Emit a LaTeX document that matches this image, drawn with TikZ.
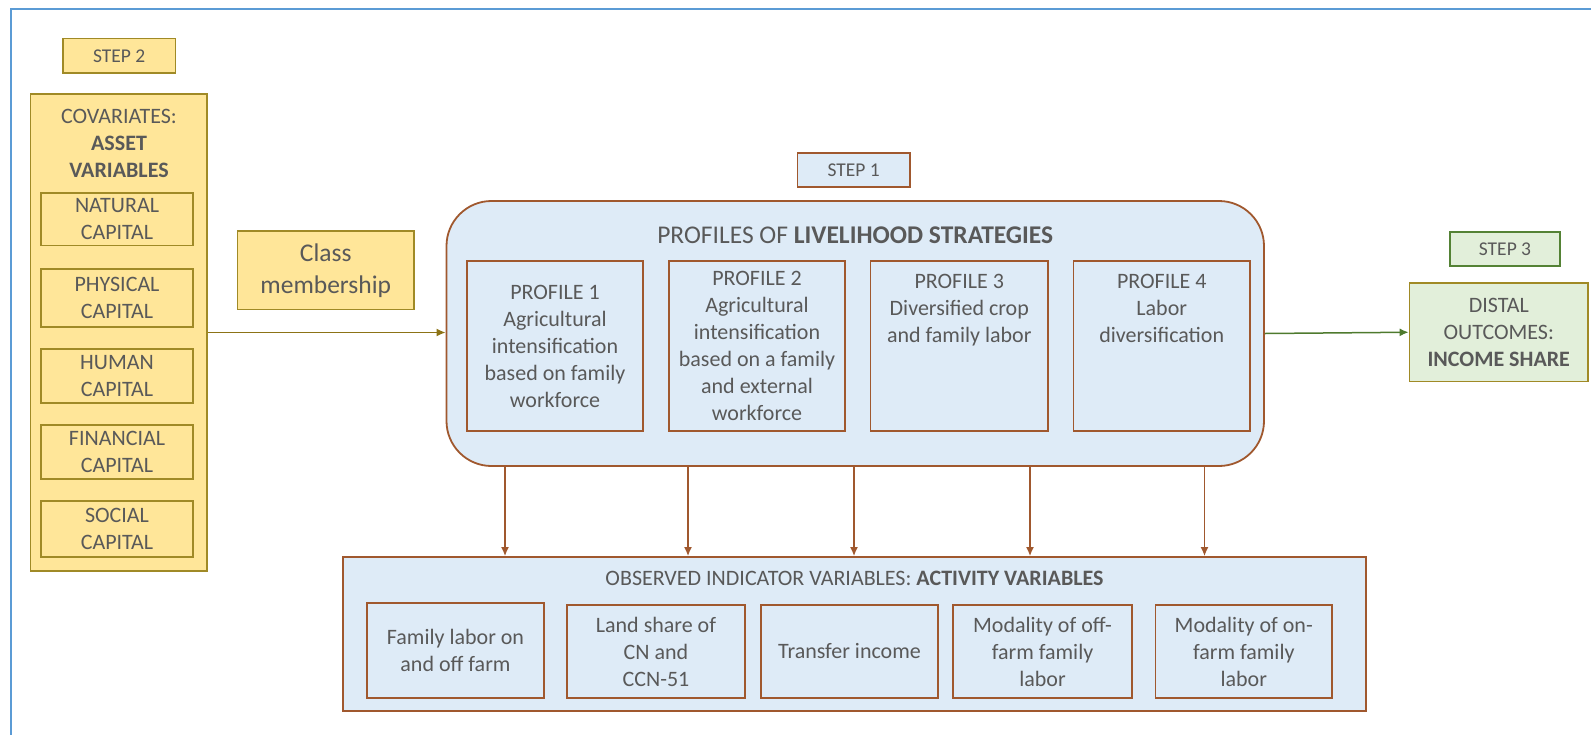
\documentclass[tikz,border=0pt]{standalone}
\usepackage{fontspec}
\setmainfont{Carlito}
\usetikzlibrary{arrows.meta,calc}
\definecolor{tc}{HTML}{595959}
\definecolor{yfill}{HTML}{FFE699}
\definecolor{yline}{HTML}{A08A26}
\definecolor{yarrow}{HTML}{8C7316}
\definecolor{bfill}{HTML}{DEEBF7}
\definecolor{bline}{HTML}{A0582E}
\definecolor{gfill}{HTML}{E2EFDA}
\definecolor{gline}{HTML}{548235}
\definecolor{garrow}{HTML}{4E7A2E}
\definecolor{frame}{HTML}{5B9BD5}
\tikzset{
  box/.style={draw, line width=1.8pt, inner sep=0pt, align=center, text=tc,
    font=\fontsize{22}{27}\selectfont},
  ybox/.style={box, fill=yfill, draw=yline},
  bbox/.style={box, fill=bfill, draw=bline},
  gbox/.style={box, fill=gfill},
  txt/.style={inner sep=0pt, align=center, text=tc, font=\fontsize{22}{27}\selectfont},
  steptxt/.style={font=\fontsize{19.5}{24}\selectfont},
  arr/.style={-{Latex[length=9pt,width=8pt]}, line width=1.5pt},
}
\begin{document}
\begin{tikzpicture}[x=1pt,y=-1pt]
\useasboundingbox (0,0) rectangle (1591,734);
% frame
\draw[frame, line width=2.5pt] (11,740) -- (11,9) -- (1600,9);

% STEP 2 and covariates
\node[ybox, steptxt, minimum width=112.5pt, minimum height=34.5pt] (step2) at (119.25,55.75) {STEP 2};
\node[ybox, minimum width=176.5pt, minimum height=477pt] (cov) at (118.75,332.5) {};
\node[txt] (covt) at (119,143) {COVARIATES:\\\textbf{ASSET}\\\textbf{VARIABLES}};
\node[ybox, minimum width=152pt, minimum height=52.5pt] (nat) at (117,219.25) {NATURAL\\CAPITAL};
\node[ybox, minimum width=152pt, minimum height=58pt] (phys) at (117,298) {PHYSICAL\\CAPITAL};
\node[ybox, minimum width=152pt, minimum height=54pt] (hum) at (117,376) {HUMAN\\CAPITAL};
\node[ybox, minimum width=152pt, minimum height=54pt] (fin) at (117,452) {FINANCIAL\\CAPITAL};
\node[ybox, minimum width=152pt, minimum height=56pt] (soc) at (117,529) {SOCIAL\\CAPITAL};

% class membership
\node[ybox, minimum width=176.5pt, minimum height=78.5pt, font=\fontsize{25.5}{32}\selectfont] (cls) at (325.75,270.25) {Class\\membership};

% STEP 1 and profiles
\node[bbox, steptxt, minimum width=112.5pt, minimum height=34pt] (step1) at (853.75,170) {STEP 1};
\node[bbox, rounded corners=45pt, minimum width=817.5pt, minimum height=265pt] (prof) at (855.25,333.5) {};
\node[txt, font=\fontsize{25.5}{31}\selectfont] (proft) at (855.25,235.5) {PROFILES OF \textbf{LIVELIHOOD STRATEGIES}};
\node[bbox, minimum width=176pt, minimum height=170pt] (p1) at (555,346) {PROFILE 1\\Agricultural\\intensification\\based on family\\workforce};
\node[bbox, minimum width=176pt, minimum height=170pt] (p2) at (757,346) {PROFILE 2\\Agricultural\\intensification\\based on a family\\and external\\workforce};
\node[bbox, minimum width=177.5pt, minimum height=170pt] (p3) at (959.25,346) {};
\node[txt, anchor=north] (p3t) at ($(p3.north)+(0,13.5)$) {PROFILE 3\\Diversified crop\\and family labor};
\node[bbox, minimum width=176.5pt, minimum height=170pt] (p4) at (1161.75,346) {};
\node[txt, anchor=north] (p4t) at ($(p4.north)+(0,13.5)$) {PROFILE 4\\Labor\\diversification};

% STEP 3 and distal outcomes
\node[gbox, draw=gline, steptxt, minimum width=110pt, minimum height=34pt] (step3) at (1505,249) {STEP 3};
\node[gbox, draw=yline, minimum width=178.5pt, minimum height=98.5pt] (dist) at (1498.75,332.25) {DISTAL\\OUTCOMES:\\\textbf{INCOME SHARE}};

% indicators
\node[bbox, minimum width=1023pt, minimum height=154pt] (ind) at (854.5,634) {};
\node[txt] (indt) at (854.5,578) {OBSERVED INDICATOR VARIABLES: \textbf{ACTIVITY VARIABLES}};
\node[bbox, minimum width=177pt, minimum height=95pt] (b1) at (455.5,650.5) {Family labor on\\and off farm};
\node[bbox, minimum width=178pt, minimum height=93pt] (b2) at (656,651.5) {Land share of\\CN and\\CCN-51};
\node[bbox, minimum width=177pt, minimum height=93pt] (b3) at (849.5,651.5) {Transfer income};
\node[bbox, minimum width=179pt, minimum height=93pt] (b4) at (1042.5,651.5) {Modality of off-\\farm family\\labor};
\node[bbox, minimum width=176.5pt, minimum height=93pt] (b5) at (1243.75,651.5) {Modality of on-\\farm family\\labor};

% connectors
\draw[arr, yarrow] (cov.east) -- (cov.east -| prof.west);
\draw[arr, garrow] (prof.east) -- (dist.west);
\coordinate (x1) at (505,0);
\coordinate (x2) at (688,0);
\coordinate (x3) at (854,0);
\coordinate (x4) at (1030,0);
\coordinate (x5) at (1204.5,0);
\foreach \i in {1,...,5} {
  \draw[arr, bline] (x\i |- prof.south) -- (x\i |- ind.north);
}
\end{tikzpicture}
\end{document}
